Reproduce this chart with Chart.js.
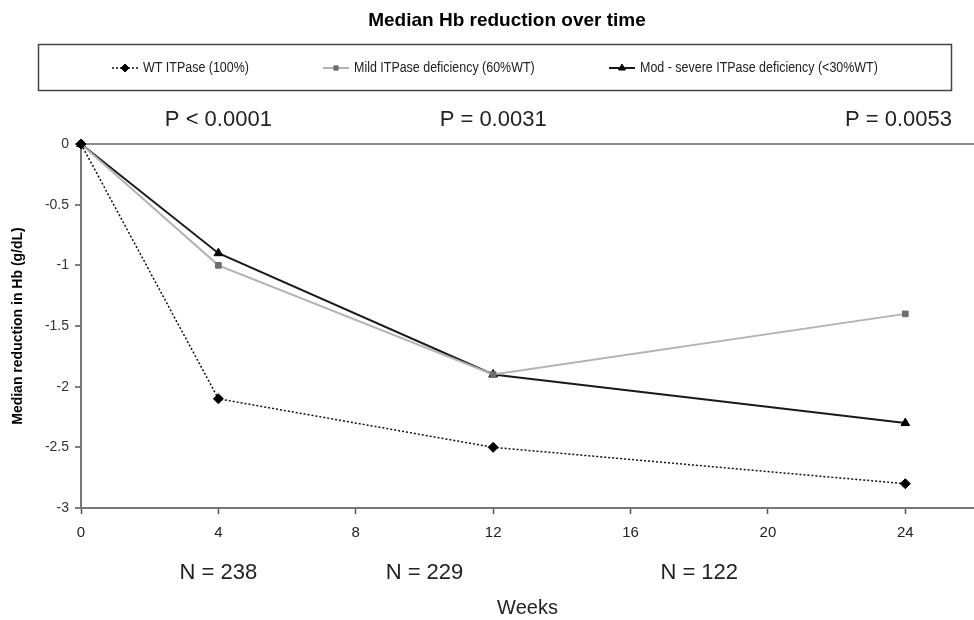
<!DOCTYPE html>
<html>
<head>
<meta charset="utf-8">
<title>Median Hb reduction over time</title>
<script src="https://cdn.jsdelivr.net/npm/chart.js@4.4.1/dist/chart.umd.min.js"></script>
<style>
  html, body { margin: 0; padding: 0; background: #fff; overflow: hidden; }
  /* a few px wider than the window so the axis runs to the right edge */
  #wrap { width: 980px; height: 620px; position: relative; }
</style>
</head>
<body>
<div id="wrap"><canvas id="hbChart"></canvas></div>
<script>
// values (weeks on x, median Hb change in g/dL on y)
const weeks = [0, 4, 12, 24];
const wtValues = [0, -2.1, -2.5, -2.8];
const mildValues = [0, -1.0, -1.9, -1.4];
const modValues = [0, -0.9, -1.9, -2.3];

const seriesNames = [
  'WT ITPase (100%)',
  'Mild ITPase deficiency (60%WT)',
  'Mod - severe ITPase deficiency (<30%WT)'
];

const xTicks = [0, 4, 8, 12, 16, 20, 24];

// annotations above / below the plot, anchored on week positions
const pLabels = ['P < 0.0001', 'P = 0.0031', 'P = 0.0053'];
const pAt = [4, 12, 23.8];
const nLabels = ['N = 238', 'N = 229', 'N = 122'];
const nAt = [4, 10, 18];

const toPoints = vals => weeks.map((w, i) => ({ x: w, y: vals[i] }));

const datasets = [
  {
    label: seriesNames[0], data: toPoints(wtValues),
    borderColor: '#111', borderWidth: 1.5, borderDash: [2, 2],
    pointStyle: 'rectRot', pointRadius: 5,
    pointBackgroundColor: '#000', pointBorderColor: '#000', pointBorderWidth: 1,
    clip: false
  },
  {
    label: seriesNames[1], data: toPoints(mildValues),
    borderColor: '#b3b3b3', borderWidth: 2,
    pointStyle: 'rect', pointRadius: 4,
    pointBackgroundColor: '#6e6e6e', pointBorderColor: '#6e6e6e', pointBorderWidth: 1,
    clip: false
  },
  {
    label: seriesNames[2], data: toPoints(modValues),
    borderColor: '#1a1a1a', borderWidth: 2,
    pointStyle: 'triangle', pointRadius: 5,
    pointBackgroundColor: '#000', pointBorderColor: '#000', pointBorderWidth: 1,
    clip: false
  }
];

/* ---------------------- title, boxed legend, P / N notes ---------------------- */
const extrasPlugin = {
  id: 'extras',
  afterDraw(chart) {
    const { ctx, chartArea, scales } = chart;
    ctx.save();

    // title
    ctx.fillStyle = '#000';
    ctx.font = 'bold 19px "Liberation Sans", Arial, sans-serif';
    ctx.textAlign = 'center';
    ctx.textBaseline = 'middle';
    ctx.fillText('Median Hb reduction over time', 507, 21);

    // legend box
    ctx.strokeStyle = '#444';
    ctx.lineWidth = 1.5;
    ctx.strokeRect(38.5, 44.5, 913, 46);

    const legendX = [112, 323, 609];
    const ly = 68;
    chart.data.datasets.forEach((ds, i) => {
      const x0 = legendX[i];
      ctx.save();
      ctx.strokeStyle = ds.borderColor;
      ctx.lineWidth = ds.borderWidth;
      ctx.setLineDash(ds.borderDash || []);
      ctx.beginPath();
      ctx.moveTo(x0, ly);
      ctx.lineTo(x0 + 26, ly);
      ctx.stroke();
      ctx.setLineDash([]);
      ctx.fillStyle = ds.pointBackgroundColor;
      ctx.strokeStyle = ds.pointBorderColor;
      ctx.lineWidth = 1;
      Chart.helpers.drawPoint(ctx, {
        pointStyle: ds.pointStyle, radius: ds.pointRadius - 1, rotation: 0, borderWidth: 1
      }, x0 + 13, ly);
      ctx.restore();

      // the original legend uses a condensed face, squeeze the text a bit
      ctx.save();
      ctx.translate(x0 + 31, ly);
      ctx.scale(0.89, 1);
      ctx.fillStyle = '#222';
      ctx.font = '14px "Liberation Sans", Arial, sans-serif';
      ctx.textAlign = 'left';
      ctx.textBaseline = 'middle';
      ctx.fillText(ds.label, 0, 0);
      ctx.restore();
    });

    // P values above, N counts below
    ctx.fillStyle = '#222';
    ctx.font = '22px "Liberation Sans", Arial, sans-serif';
    ctx.textAlign = 'center';
    ctx.textBaseline = 'middle';
    pLabels.forEach((t, i) => {
      ctx.fillText(t, scales.x.getPixelForValue(pAt[i]), chartArea.top - 24);
    });
    nLabels.forEach((t, i) => {
      ctx.fillText(t, scales.x.getPixelForValue(nAt[i]), chartArea.bottom + 65);
    });

    ctx.restore();
  }
};

new Chart(document.getElementById('hbChart'), {
  type: 'line',
  data: { datasets },
  options: {
    responsive: true,
    maintainAspectRatio: false,
    animation: false,
    layout: { padding: { top: 144, right: 0, left: 0, bottom: 0 } },
    elements: { line: { tension: 0 } },
    plugins: {
      legend: { display: false },
      tooltip: { enabled: false }
    },
    scales: {
      x: {
        type: 'linear',
        min: 0,
        max: 26,
        afterBuildTicks: scale => {
          scale.ticks = xTicks.map(v => ({ value: v }));
        },
        afterFit: scale => { scale.height = 112; },
        ticks: {
          color: '#222',
          font: { family: '"Liberation Sans", Arial, sans-serif', size: 15 },
          padding: 10
        },
        grid: {
          drawOnChartArea: false,
          tickColor: '#555',
          tickLength: 6,
          tickWidth: 1.5
        },
        border: { display: true, color: '#777', width: 2 },
        title: {
          display: true,
          text: 'Weeks',
          color: '#222',
          font: { family: '"Liberation Sans", Arial, sans-serif', size: 20 },
          padding: { top: 0, bottom: 0 }
        }
      },
      y: {
        min: -3,
        max: 0,
        afterFit: scale => { scale.width = 81; },
        ticks: {
          stepSize: 0.5,
          color: '#333',
          font: { family: '"Liberation Sans", Arial, sans-serif', size: 14 },
          padding: 6,
          callback: v => String(v)
        },
        grid: {
          color: ctx => (ctx.tick && ctx.tick.value === 0) ? '#8a8a8a' : 'rgba(0,0,0,0)',
          lineWidth: 2,
          tickColor: '#555',
          tickLength: 6,
          tickWidth: 1.5
        },
        border: { display: true, color: '#777', width: 2 },
        title: {
          display: true,
          text: 'Median reduction in Hb (g/dL)',
          color: '#000',
          font: { family: '"Liberation Sans", Arial, sans-serif', size: 14, weight: 'bold' },
          padding: { top: 10, bottom: 0 }
        }
      }
    }
  },
  plugins: [extrasPlugin]
});
</script>
</body>
</html>
